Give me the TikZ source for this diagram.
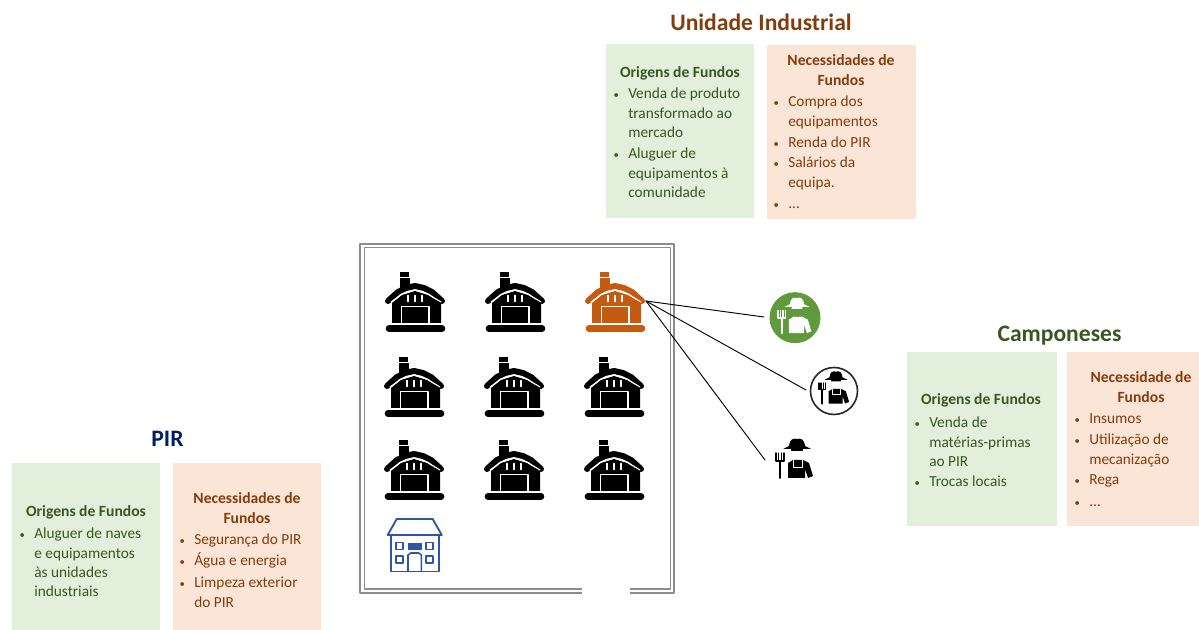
\documentclass[tikz,border=0pt]{standalone}
\usepackage{fontspec}
\setmainfont{Carlito}
\definecolor{greenbox}{HTML}{E2EFDA}
\definecolor{orangebox}{HTML}{FBE5D6}
\definecolor{greentext}{HTML}{385723}
\definecolor{browntext}{HTML}{843C0C}
\definecolor{navytext}{HTML}{002060}
\definecolor{barnorange}{HTML}{C55A11}
\definecolor{farmgreen}{HTML}{5F9A3C}
\definecolor{houseblue}{HTML}{2F55A4}
\newcommand{\bul}{\leavevmode\llap{{\fontsize{8}{8}\selectfont\textbullet}\hspace{7pt}}}
\tikzset{
	greenpanel/.style={fill=greenbox, inner sep=0pt, anchor=north west},
	orangepanel/.style={fill=orangebox, inner sep=0pt, anchor=north west},
	heading/.style={font=\fontsize{17.7}{20}\selectfont\bfseries},
	boxtitle/.style={font=\fontsize{11.7}{15}\selectfont\bfseries, align=center, inner sep=0pt},
	entry/.style={font=\fontsize{11.5}{14.4}\selectfont, align=left, anchor=north west, inner sep=0pt}
}
\begin{document}
\begin{tikzpicture}[x=0.75pt, y=-0.75pt, line join=round, line cap=round]
	\useasboundingbox (0,0) rectangle (1199,630);
	\tikzset{barn/.pic={
			\fill[pic actions] (-15,-28) rectangle (-6,-23);
			\fill[pic actions] (-15,-22) rectangle (-5,-12);
			\draw[pic actions, line width=4.5pt] (-27,1)--(-17,-8)--(-9,-12)--(0,-14)--(9,-12)--(17,-8)--(27,1);
			\fill[pic actions] (-23,3)--(-13,-5)--(0,-9)--(13,-5)--(26,3)--(26,23)--(-23,23)--cycle;
			\draw[white, line width=0.9pt] (-13.5,23)--(-13.5,6.7)--(14,6.7)--(14,23);
			\draw[white, line width=0.8pt] (-24,2)--(-13,-6)--(0,-10)--(13,-6)--(26,2);
			\foreach \i in {-7,0,7} \draw[white, line width=1.2pt] (\i,-4.5)--(\i,1.5);
			\draw[pic actions, line width=5pt] (-26,28.5)--(27,28.5);
	}}
	\tikzset{farmer/.pic={
			\fill[pic actions] (-8,-13) .. controls (-7,-20) and (-4,-21) .. (0,-20) .. controls (4,-21) and (7,-20) .. (8,-13)--(14,-10)--(-14,-10)--cycle;
			\fill[pic actions] (-6,-8) arc (180:360:6 and 7)--cycle;
			\fill[pic actions] (-9,19)--(-9,4)--(-4,1)--(6,1)--(12,4)--(16,17)--(11,19)--(8,10)--(8,19)--cycle;
			\draw[draw=white, line width=0.6pt] (-4,1)--(-4,8)--(5,8)--(5,1);
			\draw[pic actions, line width=1.1pt] (-21,-6)--(-21,2)--(-13,2)--(-13,-6) (-18.5,-6)--(-18.5,2) (-15.5,-6)--(-15.5,2);
			\draw[pic actions, line width=1.5pt] (-17,2)--(-17,19);
	}}
	\tikzset{manor/.pic={
			\draw[houseblue, line width=1.4pt] (-18,-18)--(18,-18)--(27,-2)--(-27,-2)--cycle;
			\draw[houseblue, line width=1.4pt] (-24,-2)--(-24,34.5)--(24,34.5)--(24,-2);
			\foreach \x in {-15,15} \foreach \y in {9,22.5} \draw[houseblue, line width=1.2pt] (\x-3.5,\y-3.5) rectangle (\x+3.5,\y+3.5);
			\fill[houseblue] (-7,5.5) rectangle (7,12.5);
			\draw[houseblue, line width=1.2pt] (-6.7,34.5)--(-6.7,18)--(-4,16)--(4,16)--(6.7,18)--(6.7,34.5);
	}}
	% plot of units
	\draw[black!45, line width=0.8pt] (360,244) rectangle (674,593);
	\draw[black!45, line width=0.8pt] (364.5,247.5) rectangle (670.5,589);
	\fill[white] (582,586) rectangle (630,597);
	\foreach \cx/\cy in {415/300,515/300,414/385,514/385,614/385,414/468,514/468,614/468}
		\path (\cx,\cy) pic[black]{barn};
	\path (615,300) pic[barnorange]{barn};
	\path (414.7,537) pic{manor};
	% farmers
	\coordinate (unit) at (646,301);
	\fill[farmgreen] (795,317.7) circle (25.5);
	\path (797,316) pic[white, scale=0.9]{farmer};
	\draw[black!85, line width=1.2pt] (834,391) circle (23.5);
	\path (836,388) pic[black, scale=0.82]{farmer};
	\path (797,459) pic[black]{farmer};
	\coordinate (farmerA) at (764,317);
	\coordinate (farmerB) at (806,390);
	\coordinate (farmerC) at (765,460);
	\draw[line width=0.7pt] (unit)--(farmerA);
	\draw[line width=0.7pt] (unit)--(farmerB);
	\draw[line width=0.7pt] (unit)--(farmerC);
	% Unidade Industrial
	\node[heading, text=browntext] (titleUI) at (761,22.5) {Unidade Industrial};
	\node[greenpanel, minimum width=111pt, minimum height=130.5pt] (origUI) at (606,44) {};
	\node[orangepanel, minimum width=111.7pt, minimum height=130.5pt] (necUI) at (767,45) {};
	\node[boxtitle, text=greentext] (origUIt) at (680,73) {Origens de Fundos};
	\node[boxtitle, text=browntext] (necUIt) at (841,70.5) {Necessidades de\\Fundos};
	\node[entry, text=greentext] (origUIa) at (628,88) {\bul Venda de produto\\transformado ao\\mercado};
	\node[entry, text=greentext] (origUIb) at (628,148) {\bul Aluguer de\\equipamentos à\\comunidade};
	\node[entry, text=browntext] (necUIa) at (788,96) {\bul Compra dos\\equipamentos};
	\node[entry, text=browntext] (necUIb) at (788,137) {\bul Renda do PIR};
	\node[entry, text=browntext] (necUIc) at (788,157) {\bul Salários da\\equipa.};
	\node[entry, text=browntext] (necUId) at (788,203) {\bul ...};
	% Camponeses
	\node[heading, text=greentext] (titleCA) at (1059.5,336) {Camponeses};
	\node[greenpanel, minimum width=112pt, minimum height=130.5pt] (origCA) at (907,352) {};
	\node[orangepanel, minimum width=99pt, minimum height=130.5pt] (necCA) at (1067,352) {};
	\node[boxtitle, text=greentext] (origCAt) at (981,400) {Origens de Fundos};
	\node[boxtitle, text=browntext] (necCAt) at (1141,387.5) {Necessidade de\\Fundos};
	\node[entry, text=greentext] (origCAa) at (929,417) {\bul Venda de\\matérias-primas\\ao PIR};
	\node[entry, text=greentext] (origCAb) at (929,476) {\bul Trocas locais};
	\node[entry, text=browntext] (necCAa) at (1089,413) {\bul Insumos};
	\node[entry, text=browntext] (necCAb) at (1089,434) {\bul Utilização de\\mecanização};
	\node[entry, text=browntext] (necCAc) at (1089,474) {\bul Rega};
	\node[entry, text=browntext] (necCAd) at (1089,501) {\bul ...};
	% PIR
	\node[heading, text=navytext] (titlePIR) at (167.5,439) {PIR};
	\node[greenpanel, minimum width=111pt, minimum height=125pt] (origPIR) at (12,463) {};
	\node[orangepanel, minimum width=111pt, minimum height=125pt] (necPIR) at (173,463) {};
	\node[boxtitle, text=greentext] (origPIRt) at (86,512) {Origens de Fundos};
	\node[boxtitle, text=browntext] (necPIRt) at (247,508) {Necessidades de\\Fundos};
	\node[entry, text=greentext] (origPIRa) at (34,528) {\bul Aluguer de naves\\e equipamentos\\às unidades\\industriais};
	\node[entry, text=browntext] (necPIRa) at (194,534) {\bul Segurança do PIR};
	\node[entry, text=browntext] (necPIRb) at (194,552) {\bul Água e energia};
	\node[entry, text=browntext] (necPIRc) at (194,577) {\bul Limpeza exterior\\do PIR};
\end{tikzpicture}
\end{document}
